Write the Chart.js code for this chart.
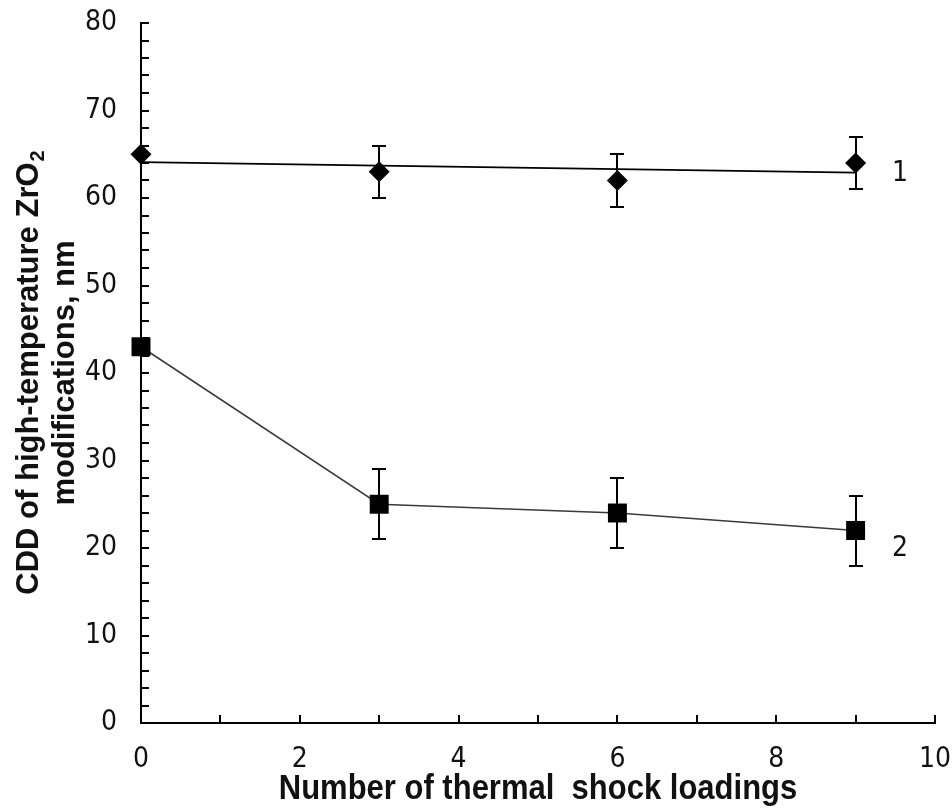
<!DOCTYPE html>
<html>
<head>
<meta charset="utf-8">
<script src="https://cdn.jsdelivr.net/npm/chart.js@4.4.1/dist/chart.umd.min.js"></script>
<style>
html, body { margin: 0; padding: 0; background: #fff; }
#chart { display: block; }
</style>
</head>
<body>
<canvas id="chart" width="952" height="812"></canvas>
<script>
const loadings = [0, 3, 6, 9];
const cdd1 = [65, 63, 62, 64];
const err1 = [0, 3, 3, 3];
const cdd2 = [43, 25, 24, 22];
const err2 = [0, 4, 4, 4];
// trend line of curve 1, end points
const trendX = [0, 9];
const trendY = [64.1, 62.9];
const curveNames = ["1", "2"];
const nameX = [9.56, 9.56];
const nameY = [62.8, 19.9];
const xTitle = "Number of thermal  shock loadings";
const yTitle1 = "CDD of high-temperature ZrO";
const yTitle1Sub = "2";
const yTitle2 = "modifications, nm";

const FONT = '"Liberation Sans", Arial, sans-serif';
const NARROW = '"Liberation Sans Narrow", "Arial Narrow", "DejaVu Sans Condensed", sans-serif';

function toXY(xs, ys) {
    let arr = [];
    for (let i = 0; i < xs.length; i++) arr.push({ x: xs[i], y: ys[i] });
    return arr;
}

// vertical error bars, drawn under the markers
const errorBars = {
    id: "errorBars",
    beforeDatasetsDraw(chart) {
        const ctx = chart.ctx;
        const xs = chart.scales.x, ys = chart.scales.y;
        const sets = [[cdd1, err1], [cdd2, err2]];
        ctx.save();
        ctx.strokeStyle = "#000";
        ctx.lineWidth = 2;
        sets.forEach(([vals, errs]) => {
            for (let i = 0; i < loadings.length; i++) {
                if (!errs[i]) continue;
                const px = Math.round(xs.getPixelForValue(loadings[i]));
                const top = Math.round(ys.getPixelForValue(vals[i] + errs[i]));
                const bot = Math.round(ys.getPixelForValue(vals[i] - errs[i]));
                ctx.beginPath();
                ctx.moveTo(px, top); ctx.lineTo(px, bot);
                ctx.moveTo(px - 7, top); ctx.lineTo(px + 7, top);
                ctx.moveTo(px - 7, bot); ctx.lineTo(px + 7, bot);
                ctx.stroke();
            }
        });
        ctx.restore();
    }
};

// inward tick marks, curve numbers and axis titles
const decor = {
    id: "decor",
    afterDraw(chart) {
        const ctx = chart.ctx;
        const xs = chart.scales.x, ys = chart.scales.y;
        const area = chart.chartArea;
        ctx.save();
        ctx.strokeStyle = "#000";
        ctx.lineWidth = 2;
        ctx.beginPath();
        for (let v = 0; v <= 80; v += 2) {
            const py = Math.round(ys.getPixelForValue(v));
            ctx.moveTo(area.left, py); ctx.lineTo(area.left + 8, py);
        }
        for (let v = 0; v <= 10; v += 1) {
            const px = Math.round(xs.getPixelForValue(v));
            ctx.moveTo(px, area.bottom); ctx.lineTo(px, area.bottom - 8);
        }
        ctx.stroke();

        ctx.fillStyle = "#111";
        ctx.font = "28px " + NARROW;
        ctx.textAlign = "center";
        ctx.textBaseline = "middle";
        for (let i = 0; i < curveNames.length; i++) {
            ctx.fillText(curveNames[i], xs.getPixelForValue(nameX[i]), ys.getPixelForValue(nameY[i]));
        }

        // x title
        ctx.save();
        ctx.translate((area.left + area.right) / 2, 799);
        ctx.scale(1, 1.12);
        ctx.font = "bold 31px " + FONT;
        ctx.textBaseline = "alphabetic";
        ctx.fillText(xTitle, 0, 0);
        ctx.restore();

        // y title, two lines
        ctx.save();
        ctx.translate(38, (area.top + area.bottom) / 2);
        ctx.rotate(-Math.PI / 2);
        ctx.textBaseline = "alphabetic";
        ctx.textAlign = "left";
        ctx.font = "bold 31px " + FONT;
        const wMain = ctx.measureText(yTitle1).width;
        ctx.font = "bold 20px " + FONT;
        const wSub = ctx.measureText(yTitle1Sub).width;
        const start = -(wMain + wSub) / 2;
        ctx.font = "bold 31px " + FONT;
        ctx.fillText(yTitle1, start, 0);
        ctx.font = "bold 20px " + FONT;
        ctx.fillText(yTitle1Sub, start + wMain + 1, 6);
        ctx.font = "bold 31px " + FONT;
        ctx.textAlign = "center";
        ctx.fillText(yTitle2, 0, 36);
        ctx.restore();

        ctx.restore();
    }
};

new Chart(document.getElementById("chart"), {
    type: "scatter",
    data: {
        datasets: [
            {
                label: "trend 1",
                data: toXY(trendX, trendY),
                showLine: true,
                borderColor: "#000",
                borderWidth: 2,
                pointRadius: 0,
                clip: false
            },
            {
                label: "1",
                data: toXY(loadings, cdd1),
                showLine: false,
                pointStyle: "rectRot",
                pointRadius: 10.5,
                backgroundColor: "#000",
                borderColor: "#000",
                borderWidth: 0,
                clip: false
            },
            {
                label: "2",
                data: toXY(loadings, cdd2),
                showLine: true,
                borderColor: "#3a3a3a",
                borderWidth: 1.5,
                pointStyle: "rect",
                pointRadius: 13.4,
                backgroundColor: "#000",
                pointBorderColor: "#000",
                pointBorderWidth: 0,
                clip: false
            }
        ]
    },
    options: {
        responsive: false,
        animation: false,
        events: [],
        layout: { padding: { left: 0, right: 17, top: 23, bottom: 0 } },
        plugins: { legend: { display: false }, tooltip: { enabled: false } },
        scales: {
            x: {
                type: "linear",
                min: 0,
                max: 10,
                ticks: { stepSize: 2, font: { family: NARROW, size: 28 }, color: "#111", padding: 20, maxRotation: 0 },
                grid: { display: false, drawTicks: false },
                border: { color: "#000", width: 2 },
                afterFit(s) { s.height = 89; s.paddingLeft = 0; s.paddingRight = 0; }
            },
            y: {
                min: 0,
                max: 80,
                ticks: { stepSize: 10, font: { family: NARROW, size: 28 }, color: "#111", padding: 24 },
                grid: { display: false, drawTicks: false },
                border: { color: "#000", width: 2 },
                afterFit(s) { s.width = 141; s.paddingTop = 0; s.paddingBottom = 0; }
            }
        }
    },
    plugins: [errorBars, decor]
});
</script>
</body>
</html>
